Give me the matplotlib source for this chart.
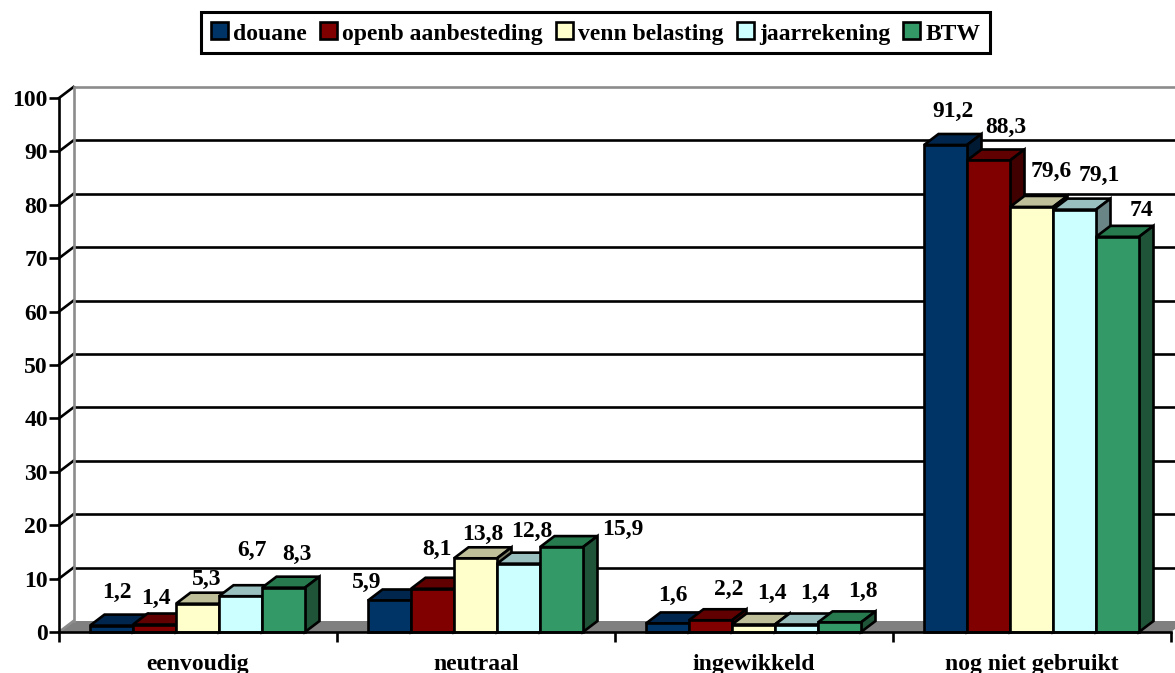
"""Dutch survey chart: fake-3D clustered bars."""

import matplotlib
matplotlib.use("Agg")

import matplotlib.pyplot as plt
import numpy as np
from matplotlib.patches import Patch, Polygon

plt.rcParams["font.family"] = ["Liberation Serif", "DejaVu Serif"]
plt.rcParams["font.weight"] = "bold"

categories = ["eenvoudig", "neutraal", "ingewikkeld", "nog niet gebruikt"]
series_names = ["douane", "openb aanbesteding", "venn belasting", "jaarrekening", "BTW"]

douane = [1.2, 5.9, 1.6, 91.2]
aanbesteding = [1.4, 8.1, 2.2, 88.3]
venn = [5.3, 13.8, 1.4, 79.6]
jaarrekening = [6.7, 12.8, 1.4, 79.1]
btw = [8.3, 15.9, 1.8, 74]
y_ticks = [0, 10, 20, 30, 40, 50, 60, 70, 80, 90, 100]

front_colors = ["#003366", "#800000", "#FFFFCC", "#CCFFFF", "#339966"]
top_colors = ["#00264D", "#600000", "#BFBF99", "#99BFBF", "#267A4D"]
side_colors = ["#001A33", "#400000", "#80806A", "#6A8585", "#1F5438"]

# Hand placement of the value labels in pixels from the bar's top centre,
# the original has them dragged around.
label_offsets = [
    [(5.5, 33.6), (1.5, 26.5), (9.5, 24.7), (11.5, 46), (13.5, 33.7)],
    [(-22.5, 18.5), (4.5, 39.7), (7.5, 24.3), (13.5, 32.6), (61.5, 18)],
    [(5.5, 28.5), (18.5, 31), (18.5, 31.5), (18.5, 31.5), (23.5, 31.4)],
    [(7.5, 34), (17.5, 33.5), (19.5, 35), (24.5, 34.6), (23.5, 26.8)],
]

W, H = 1175, 673
LEFT, RIGHT, BOTTOM, TOP = 59, 1171, 632, 98
LW = 1.9
FONT = 17

fig = plt.figure(figsize=(W / 100, H / 100), dpi=100)
ax = fig.add_axes([LEFT / W, 1 - BOTTOM / H, (RIGHT - LEFT) / W, (BOTTOM - TOP) / H])
ax.set_xlim(0, len(categories))
ax.set_ylim(0, 100)

# depth of the 3D effect, in data units
px_x = len(categories) / (RIGHT - LEFT)
px_y = 100 / (BOTTOM - TOP)
dx = 14.5 * px_x
dy = 11 * px_y
bar_w = 43 * px_x
gap = 31 * px_x

values = np.array([douane, aanbesteding, venn, jaarrekening, btw])

# floor
ax.add_patch(Polygon([(0, 0), (dx, dy), (4 + dx, dy), (4, 0)], closed=True,
                     facecolor="#808080", edgecolor="none", zorder=1, clip_on=False))

# back wall grid
for t in y_ticks:
    color = "#8C8C8C" if t == 100 else "black"
    if t > 0:
        ax.plot([dx, 4 + dx], [t + dy, t + dy], color=color, lw=LW, zorder=1.5,
                clip_on=False, solid_capstyle="butt")
    ax.plot([0, dx], [t, t + dy], color="#8C8C8C" if t == 0 else "black", lw=LW,
            zorder=1.5, clip_on=False)
ax.plot([dx, dx], [dy, 100 + dy], color="#8C8C8C", lw=LW, zorder=1.6, clip_on=False)

for c in range(len(categories)):
    for s in range(len(series_names)):
        v = values[s, c]
        x0 = c + gap + s * bar_w
        x1 = x0 + bar_w
        z = 3 + c + s * 0.1
        style = dict(closed=True, edgecolor="black", linewidth=LW, joinstyle="miter",
                     zorder=z, clip_on=False)
        ax.add_patch(Polygon([(x0, v), (x0 + dx, v + dy), (x1 + dx, v + dy), (x1, v)],
                             facecolor=top_colors[s], **style))
        ax.add_patch(Polygon([(x1, 0), (x1 + dx, dy), (x1 + dx, v + dy), (x1, v)],
                             facecolor=side_colors[s], **style))
        ax.add_patch(Polygon([(x0, 0), (x1, 0), (x1, v), (x0, v)],
                             facecolor=front_colors[s], **style))
        ax.annotate(f"{v:g}".replace(".", ","), ((x0 + x1) / 2, v),
                    xytext=label_offsets[c][s], textcoords="offset pixels",
                    ha="center", va="center", fontsize=FONT, fontweight="bold",
                    color="black", zorder=20, annotation_clip=False)

# axes proper
for side in ("top", "right"):
    ax.spines[side].set_visible(False)
for side in ("left", "bottom"):
    ax.spines[side].set_linewidth(LW)
    ax.spines[side].set_zorder(15)
ax.set_yticks(y_ticks)
ax.set_yticklabels([str(t) for t in y_ticks], fontsize=FONT, fontweight="bold")
ax.tick_params(axis="y", length=7, width=LW, pad=1)
ax.set_xticks(range(len(categories) + 1))
ax.set_xticklabels([])
ax.tick_params(axis="x", length=7, width=LW)
for i, name in enumerate(categories):
    ax.text(i + 0.5, -6.1, name, ha="center", va="center", fontsize=FONT,
            fontweight="bold", clip_on=False)

handles = [Patch(facecolor=col, edgecolor="black", linewidth=LW) for col in front_colors]
leg = fig.legend(handles, series_names, loc="center", bbox_to_anchor=(595.5 / W, 1 - 32.6 / H),
                 ncol=5, fontsize=FONT, fancybox=False, framealpha=1, edgecolor="black",
                 handlelength=0.72, handleheight=0.72, handletextpad=0.22,
                 columnspacing=0.56, borderpad=0.42, borderaxespad=0)
leg.get_frame().set_linewidth(LW + 0.3)
for txt in leg.get_texts():
    txt.set_y(-1.5)

fig.savefig("out.png", dpi=100)
